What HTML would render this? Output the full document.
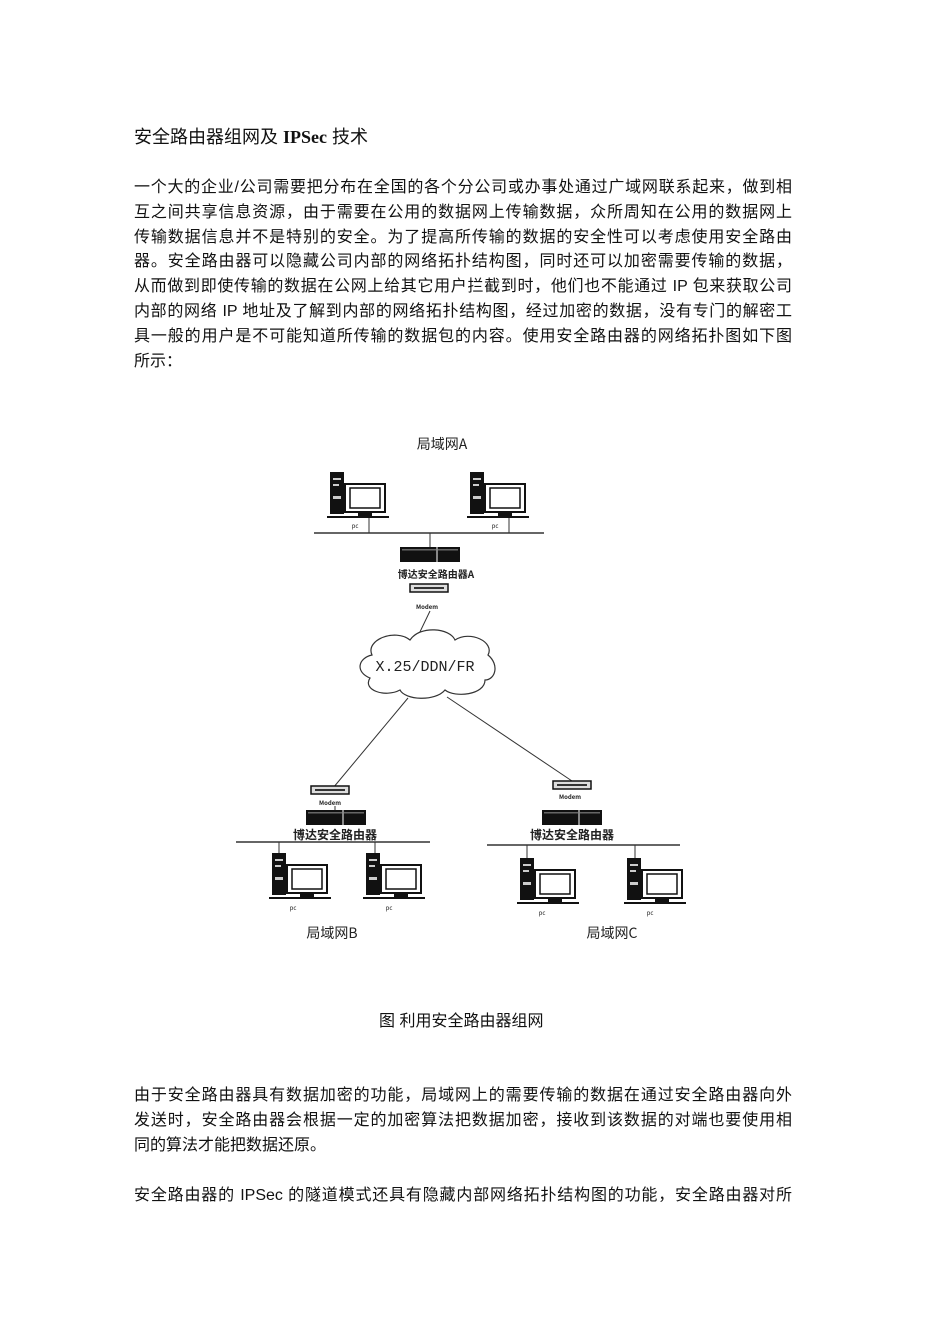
<!DOCTYPE html>
<html><head><meta charset="utf-8"><style>
html,body{margin:0;padding:0;background:#fff;}
body{width:950px;height:1341px;position:relative;overflow:hidden;font-family:"Liberation Sans","Noto Sans CJK SC",sans-serif;color:#111;}
.l{position:absolute;left:134px;width:658px;font-size:16px;line-height:20px;white-space:nowrap;text-align:justify;text-align-last:justify;}
.n{text-align-last:left;}
.t{position:absolute;left:134px;top:126px;font-size:18px;line-height:22px;}
svg{position:absolute;left:0;top:0;}
</style></head><body>
<div class="t">安全路由器组网及 <b style="font-family:'Liberation Serif',serif">IPSec</b> 技术</div>
<div class="l" style="top:178px">一个大的企业/公司需要把分布在全国的各个分公司或办事处通过广域网联系起来，做到相</div>
<div class="l" style="top:203px">互之间共享信息资源，由于需要在公用的数据网上传输数据，众所周知在公用的数据网上</div>
<div class="l" style="top:228px">传输数据信息并不是特别的安全。为了提高所传输的数据的安全性可以考虑使用安全路由</div>
<div class="l" style="top:252px">器。安全路由器可以隐藏公司内部的网络拓扑结构图，同时还可以加密需要传输的数据，</div>
<div class="l" style="top:277px">从而做到即使传输的数据在公网上给其它用户拦截到时，他们也不能通过 IP 包来获取公司</div>
<div class="l" style="top:302px">内部的网络 IP 地址及了解到内部的网络拓扑结构图，经过加密的数据，没有专门的解密工</div>
<div class="l" style="top:327px">具一般的用户是不可能知道所传输的数据包的内容。使用安全路由器的网络拓扑图如下图</div>
<div class="l n" style="top:352px">所示：</div>
<div class="l n" style="top:1012px;left:379px;width:auto">图 利用安全路由器组网</div>
<div class="l" style="top:1086px">由于安全路由器具有数据加密的功能，局域网上的需要传输的数据在通过安全路由器向外</div>
<div class="l" style="top:1111px">发送时，安全路由器会根据一定的加密算法把数据加密，接收到该数据的对端也要使用相</div>
<div class="l n" style="top:1136px">同的算法才能把数据还原。</div>
<div class="l" style="top:1186px">安全路由器的 IPSec 的隧道模式还具有隐藏内部网络拓扑结构图的功能，安全路由器对所</div>

<svg width="950" height="1341" viewBox="0 0 950 1341">
<defs>
<g id="pc">
<rect x="0" y="0" width="14" height="42" fill="#111"/>
<rect x="3" y="6" width="8" height="2" fill="#ccc"/>
<rect x="3" y="12" width="6" height="2" fill="#ccc"/>
<rect x="3" y="24" width="8" height="3" fill="#ccc"/>
<rect x="15" y="12" width="40" height="28" fill="#fff" stroke="#111" stroke-width="2"/>
<rect x="20" y="16" width="30" height="20" fill="#fff" stroke="#111" stroke-width="1.5"/>
<rect x="28" y="40" width="14" height="4" fill="#111"/>
<rect x="-3" y="44" width="62" height="2" fill="#111"/>
</g>
<g id="router">
<rect x="0" y="0" width="60" height="15" fill="#111"/>
<rect x="2" y="2" width="56" height="1.5" fill="#666"/>
<rect x="36" y="0" width="2" height="15" fill="#888"/>
</g>
<g id="modem">
<rect x="0" y="0" width="38" height="8" fill="#ddd" stroke="#111" stroke-width="1.5"/>
<rect x="4" y="3" width="30" height="2" fill="#333"/>
</g>
</defs>
<g font-family="'Noto Sans CJK SC',sans-serif" fill="#222">
<text x="442" y="449" font-size="14" text-anchor="middle">局域网A</text>
<use href="#pc" x="330" y="472"/>
<use href="#pc" x="470" y="472"/>
<text x="355" y="528" font-size="6" text-anchor="middle">pc</text>
<text x="495" y="528" font-size="6" text-anchor="middle">pc</text>
<line x1="369" y1="518" x2="369" y2="533" stroke="#333"/>
<line x1="509" y1="518" x2="509" y2="533" stroke="#333"/>
<line x1="314" y1="533" x2="544" y2="533" stroke="#333" stroke-width="1.5"/>
<line x1="430" y1="533" x2="430" y2="548" stroke="#333"/>
<use href="#router" x="400" y="547"/>
<text x="436" y="578" font-size="10" text-anchor="middle" font-weight="bold">博达安全路由器A</text>
<use href="#modem" x="410" y="584"/>
<text x="427" y="609" font-size="6" text-anchor="middle" font-weight="bold">Modem</text>
<line x1="430" y1="611" x2="418" y2="636" stroke="#333"/>
<path d="M372 655 C365 640,395 628,410 640 C420 625,450 628,455 640 C470 630,495 642,488 655 C500 665,495 680,485 680 C485 695,455 698,445 690 C435 702,405 700,400 690 C385 698,362 690,370 678 C355 672,358 658,372 655 Z" fill="#fff" stroke="#333" stroke-width="1.2"/>
<text x="425" y="671" font-size="15" text-anchor="middle" font-family="'Liberation Mono',monospace" fill="#222">X.25/DDN/FR</text>
<line x1="408" y1="698" x2="333" y2="788" stroke="#333"/>
<line x1="447" y1="697" x2="572" y2="781" stroke="#333"/>
<use href="#modem" x="311" y="786"/>
<text x="330" y="805" font-size="6" text-anchor="middle" font-weight="bold">Modem</text>
<line x1="335" y1="806" x2="335" y2="810" stroke="#333"/>
<use href="#router" x="306" y="810"/>
<text x="335" y="839" font-size="12" text-anchor="middle" font-weight="bold">博达安全路由器</text>
<line x1="236" y1="842" x2="430" y2="842" stroke="#333" stroke-width="1.5"/>
<line x1="279" y1="842" x2="279" y2="856" stroke="#333"/>
<line x1="375" y1="842" x2="375" y2="856" stroke="#333"/>
<use href="#pc" x="272" y="853"/>
<use href="#pc" x="366" y="853"/>
<text x="293" y="910" font-size="6" text-anchor="middle">pc</text>
<text x="389" y="910" font-size="6" text-anchor="middle">pc</text>
<text x="332" y="938" font-size="14" text-anchor="middle">局域网B</text>
<use href="#modem" x="553" y="781"/>
<text x="570" y="799" font-size="6" text-anchor="middle" font-weight="bold">Modem</text>
<use href="#router" x="542" y="810"/>
<text x="572" y="839" font-size="12" text-anchor="middle" font-weight="bold">博达安全路由器</text>
<line x1="487" y1="845" x2="680" y2="845" stroke="#333" stroke-width="1.5"/>
<line x1="527" y1="845" x2="527" y2="860" stroke="#333"/>
<line x1="635" y1="845" x2="635" y2="860" stroke="#333"/>
<use href="#pc" x="520" y="858"/>
<use href="#pc" x="627" y="858"/>
<text x="542" y="915" font-size="6" text-anchor="middle">pc</text>
<text x="650" y="915" font-size="6" text-anchor="middle">pc</text>
<text x="612" y="938" font-size="14" text-anchor="middle">局域网C</text>
</g>
</svg>
</body></html>
